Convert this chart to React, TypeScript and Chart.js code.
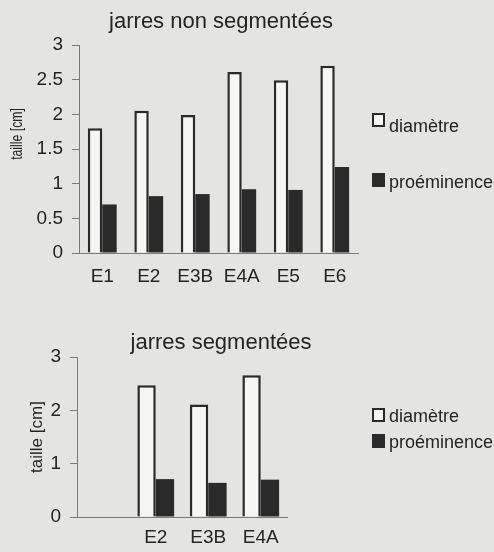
import React, { useEffect, useRef } from "react";
import { Chart, registerables } from "chart.js";

Chart.register(...registerables);

// ---- data ----
const topCategories = ["E1", "E2", "E3B", "E4A", "E5", "E6"];
const topDiametre = [1.8, 2.05, 1.99, 2.61, 2.49, 2.7];
const topProeminence = [0.7, 0.82, 0.85, 0.92, 0.91, 1.24];

const bottomCategories = ["", "E2", "E3B", "E4A"];
const bottomDiametre = [null, 2.47, 2.11, 2.66];
const bottomProeminence = [null, 0.71, 0.64, 0.7];

const topTitle = "jarres non segmentées";
const bottomTitle = "jarres segmentées";
const yAxisTitle = "taille [cm]";
const seriesNames = ["diamètre", "proéminence"];

// ---- style ----
const FONT = "'Liberation Sans', Arial, sans-serif";
const BG = "#e4e4e2";
const TEXT = "#242424";
const DARK = "#2a2a2a";
const LIGHT = "#f6f6f4";
const AXIS = "#7a7a7a";

type Spec = {
  title: string;
  titleX: number;
  titleY: number;
  yTitleX: number;
  yTitleY: number;
  yTitleSize: number;
  yTitleScale: number;
  legendBoxX: number;
  legendTextX: number;
  legendBoxY: number[];
  legendTextY: number[];
};

function decorPlugin(spec: Spec) {
  return {
    id: "decor",
    afterDraw(chart: any) {
      const ctx = chart.ctx as CanvasRenderingContext2D;
      ctx.save();
      ctx.fillStyle = TEXT;
      // title
      ctx.font = `22px ${FONT}`;
      ctx.textAlign = "center";
      ctx.textBaseline = "alphabetic";
      ctx.fillText(spec.title, spec.titleX, spec.titleY);
      // y axis title
      ctx.save();
      ctx.translate(spec.yTitleX, spec.yTitleY);
      ctx.rotate(-Math.PI / 2);
      ctx.scale(spec.yTitleScale, 1);
      ctx.font = `${spec.yTitleSize}px ${FONT}`;
      ctx.textAlign = "center";
      ctx.textBaseline = "middle";
      ctx.fillText(yAxisTitle, 0, 0);
      ctx.restore();
      // legend
      const fills = [LIGHT, DARK];
      ctx.font = `18px ${FONT}`;
      ctx.textAlign = "left";
      ctx.textBaseline = "alphabetic";
      seriesNames.forEach((name, i) => {
        const by = spec.legendBoxY[i];
        ctx.fillStyle = fills[i];
        ctx.fillRect(spec.legendBoxX, by, 13, 14);
        ctx.strokeStyle = DARK;
        ctx.lineWidth = 2;
        ctx.strokeRect(spec.legendBoxX + 1, by + 1, 11, 12);
        ctx.fillStyle = TEXT;
        ctx.fillText(name, spec.legendTextX, spec.legendTextY[i]);
      });
      ctx.restore();
    },
  };
}

function makeChart(
  canvas: HTMLCanvasElement,
  labels: string[],
  d1: (number | null)[],
  d2: (number | null)[],
  opts: {
    step: number;
    padTop: number;
    padRight: number;
    yWidth: number;
    xHeight: number;
    catPct: number;
    xPad: number;
    spec: Spec;
  }
) {
  return new Chart(canvas, {
    type: "bar",
    data: {
      labels,
      datasets: [
        {
          label: seriesNames[0],
          data: d1,
          backgroundColor: LIGHT,
          borderColor: DARK,
          borderWidth: 2.5,
          categoryPercentage: opts.catPct,
          barPercentage: 1,
        },
        {
          label: seriesNames[1],
          data: d2,
          backgroundColor: DARK,
          borderColor: DARK,
          borderWidth: 0,
          categoryPercentage: opts.catPct,
          barPercentage: 1,
        },
      ],
    },
    options: {
      responsive: false,
      animation: false,
      devicePixelRatio: 1,
      layout: { padding: { top: opts.padTop, right: opts.padRight, left: 0, bottom: 0 } },
      plugins: {
        legend: { display: false },
        title: { display: false },
        tooltip: { enabled: false },
      },
      scales: {
        x: {
          grid: { display: false, drawTicks: false },
          border: { display: true, color: AXIS, width: 1 },
          ticks: {
            color: TEXT,
            font: { family: FONT, size: 19 },
            padding: opts.xPad,
            maxRotation: 0,
            autoSkip: false,
          },
          afterFit: (s: any) => {
            s.height = opts.xHeight;
          },
        },
        y: {
          min: 0,
          max: 3,
          grid: {
            display: true,
            drawOnChartArea: false,
            drawTicks: true,
            tickLength: 7,
            color: AXIS,
          },
          border: { display: true, color: AXIS, width: 1 },
          ticks: {
            stepSize: opts.step,
            color: TEXT,
            font: { family: FONT, size: 19 },
            padding: 9,
            callback: (v: any) => String(Math.round(Number(v) * 100) / 100),
          },
          afterFit: (s: any) => {
            s.width = opts.yWidth;
          },
        },
      },
    },
    plugins: [decorPlugin(opts.spec)],
  } as any);
}

export default function App() {
  const topRef = useRef<HTMLCanvasElement>(null);
  const botRef = useRef<HTMLCanvasElement>(null);

  useEffect(() => {
    const c1 = makeChart(topRef.current!, topCategories, topDiametre, topProeminence, {
      step: 0.5,
      padTop: 45,
      padRight: 136,
      yWidth: 79,
      xHeight: 47,
      catPct: 0.62,
      xPad: 12,
      spec: {
        title: topTitle,
        titleX: 221,
        titleY: 28,
        yTitleX: 17,
        yTitleY: 134,
        yTitleSize: 17,
        yTitleScale: 0.72,
        legendBoxX: 372,
        legendTextX: 389,
        legendBoxY: [113, 173],
        legendTextY: [132, 188],
      },
    });
    const c2 = makeChart(botRef.current!, bottomCategories, bottomDiametre, bottomProeminence, {
      step: 1,
      padTop: 57,
      padRight: 207,
      yWidth: 77,
      xHeight: 35,
      catPct: 0.7,
      xPad: 9,
      spec: {
        title: bottomTitle,
        titleX: 221,
        titleY: 49,
        yTitleX: 37,
        yTitleY: 137,
        yTitleSize: 17,
        yTitleScale: 1,
        legendBoxX: 372,
        legendTextX: 389,
        legendBoxY: [108, 134],
        legendTextY: [122, 148],
      },
    });
    return () => {
      c1.destroy();
      c2.destroy();
    };
  }, []);

  return (
    <div
      style={{
        position: "absolute",
        left: 0,
        top: 0,
        width: 494,
        height: 552,
        background: BG,
        overflow: "hidden",
      }}
    >
      <canvas
        ref={topRef}
        width={494}
        height={300}
        style={{ position: "absolute", left: 0, top: 0, width: 494, height: 300 }}
      />
      <canvas
        ref={botRef}
        width={494}
        height={252}
        style={{ position: "absolute", left: 0, top: 300, width: 494, height: 252 }}
      />
    </div>
  );
}
